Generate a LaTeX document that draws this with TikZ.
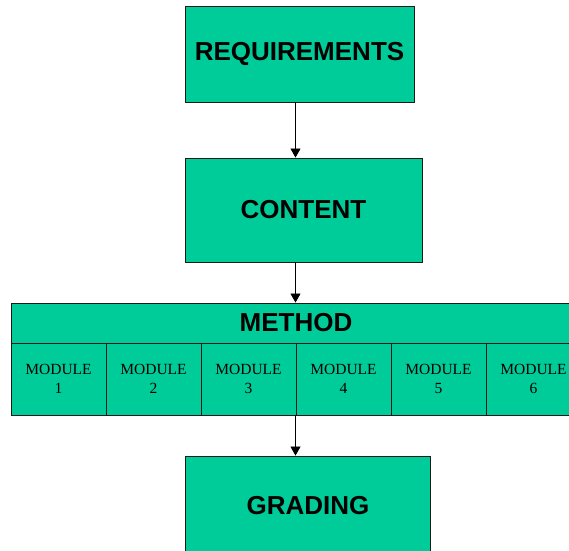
\documentclass[tikz,border=0pt]{standalone}
\usepackage{fontspec}
\setmainfont{Liberation Serif}
\setsansfont{Liberation Sans}
\usetikzlibrary{arrows.meta,positioning,calc}
\definecolor{flgreen}{HTML}{00CC99}
\definecolor{flline}{HTML}{1A1A1A}
\tikzset{
  bigbox/.style={draw=flline, fill=flgreen, line width=0.9pt, align=center,
    font=\sffamily\bfseries\fontsize{26}{30}\selectfont, inner sep=0pt},
  modbox/.style={draw=flline, fill=flgreen, line width=0.9pt, align=center,
    font=\rmfamily\fontsize{15.5}{19}\selectfont, inner sep=0pt,
    minimum width=95pt, minimum height=72pt},
  arr/.style={-{Triangle[length=9pt, width=10pt]}, line width=0.8pt, black},
}
\begin{document}
\begin{tikzpicture}[x=1pt, y=-1pt]
    \useasboundingbox (0,0) rectangle (569,550);
    \clip (0,0) rectangle (569,550);
    \fill[white] (0,0) rectangle (569,550);
    \coordinate (spine) at (295.5,0);
    \node[bigbox, minimum width=229pt, minimum height=96pt] (req) at (299.5,54) {REQUIREMENTS};
    \node[bigbox, minimum width=237pt, minimum height=104pt] (content) at (303.5,210) {CONTENT};
    \node[bigbox, minimum width=570pt, minimum height=40pt] (method) at (296,323) {METHOD};
    \foreach \i in {1,...,6} {
      \node[modbox] (mod\i) at ({11+95*(\i-0.5)},379) {MODULE\\\i};
    }
    \node[bigbox, minimum width=245.5pt, minimum height=100pt] (grading) at (308,506) {GRADING};
    \draw[arr] (req.south -| spine) -- (content.north -| spine);
    \draw[arr] (content.south -| spine) -- (method.north -| spine);
    \draw[arr] (mod3.south east -| spine) -- (grading.north -| spine);
  \end{tikzpicture}
\end{document}
